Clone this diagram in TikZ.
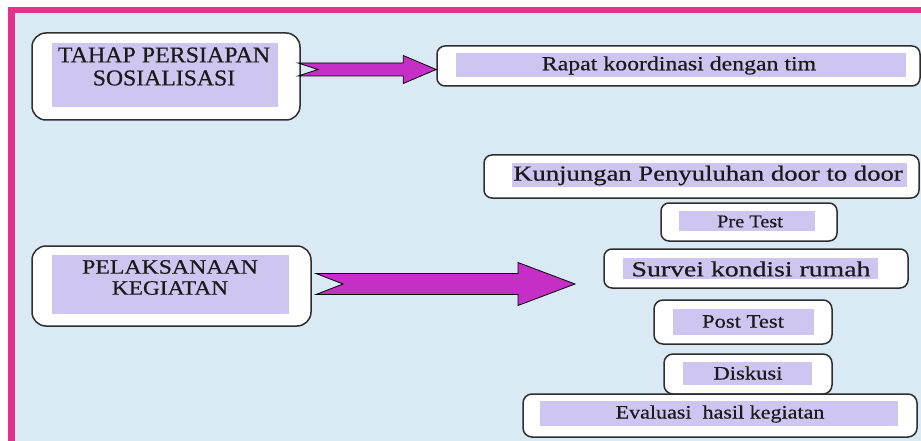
\documentclass[tikz,border=0pt]{standalone}
\usepackage{fontspec}
\setmainfont[FakeBold=0.5]{Liberation Serif}
\usetikzlibrary{calc}
\definecolor{pinkframe}{HTML}{E5318E}
\definecolor{bgblue}{HTML}{DAEAF5}
\definecolor{lav}{HTML}{CEC6F0}
\definecolor{mag}{HTML}{C62FC6}
\definecolor{edge}{HTML}{2E2E2E}
\definecolor{ink}{HTML}{1A1A1A}
\newcommand{\sx}[2]{\scalebox{#1}[1]{#2}}
\newcommand{\blockarrow}[6]{%
  \draw[barrow] let \p1=(#1), \p2=(#2) in
    (\x1,{\y1+#3}) -- ({\x2-#5},{\y1+#3}) -- ({\x2-#5},{\y1+#4}) -- (\x2,\y1)
    -- ({\x2-#5},{\y1-#4}) -- ({\x2-#5},{\y1-#3}) -- (\x1,{\y1-#3})
    -- ({\x1+#6},\y1) -- cycle;}
\tikzset{
  outerbox/.style={draw=edge, line width=1.5pt, fill=white, rounded corners=#1, inner sep=0pt},
  outerbox/.default=9pt,
  innerbox/.style={fill=lav, draw=none, inner sep=0pt},
  lbl/.style={text=ink, inner sep=0pt, align=center},
  barrow/.style={fill=mag, draw=black, line width=0.8pt, line join=miter},
}
\begin{document}
\begin{tikzpicture}[x=1pt,y=-1pt]
\useasboundingbox (0,0) rectangle (921,441);
\clip (0,0) rectangle (921,441);
% frame
\draw[draw=pinkframe, fill=bgblue, line width=6.5pt] (11.5,10) rectangle (940,460);

% TAHAP PERSIAPAN
\node[outerbox=14pt, minimum width=268pt, minimum height=87pt] (tahap) at (166,76.5) {};
\node[innerbox, minimum width=226pt, minimum height=64pt] (tahapin) at (165,75) {};
\node[lbl, font=\fontsize{22.6}{23}\selectfont] (tahaptxt) at (164,66.5) {\sx{1.06}{TAHAP PERSIAPAN}\\\sx{1.05}{SOSIALISASI}};

% Rapat
\node[outerbox=8pt, minimum width=483pt, minimum height=40pt] (rapat) at (678.5,66) {};
\node[innerbox, minimum width=450pt, minimum height=24pt] (rapatin) at (681,65) {};
\node[lbl, font=\fontsize{20}{24}\selectfont] (rapattxt) at (679,65.5) {\sx{1.19}{Rapat koordinasi dengan tim}};

% PELAKSANAAN
\node[outerbox=14pt, minimum width=279pt, minimum height=80pt] (pelak) at (171.5,286) {};
\node[innerbox, minimum width=237pt, minimum height=59pt] (pelakin) at (170.5,284.5) {};
\node[lbl, font=\fontsize{20.5}{21}\selectfont] (pelaktxt) at (170,277.5) {\sx{1.16}{PELAKSANAAN}\\\sx{1.14}{KEGIATAN}};

% Kunjungan
\node[outerbox=8pt, minimum width=435pt, minimum height=43pt] (kunj) at (701.5,176.5) {};
\node[innerbox, minimum width=395pt, minimum height=24pt] (kunjin) at (709.5,175) {};
\node[lbl, font=\fontsize{21.5}{24}\selectfont] (kunjtxt) at (708,175.5) {\sx{1.24}{Kunjungan Penyuluhan door to door}};

% Pre Test
\node[outerbox=8pt, minimum width=176pt, minimum height=38pt] (pre) at (749,222) {};
\node[innerbox, minimum width=136pt, minimum height=20pt] (prein) at (747,221) {};
\node[lbl, font=\fontsize{18}{22}\selectfont] (pretxt) at (750,221.5) {\sx{1.13}{Pre Test}};

% Survei
\node[outerbox=8pt, minimum width=304pt, minimum height=39pt] (survei) at (756,268.5) {};
\node[innerbox, minimum width=255pt, minimum height=21pt] (surveiin) at (750.5,268.5) {};
\node[lbl, font=\fontsize{21.5}{24}\selectfont] (surveitxt) at (751,269) {\sx{1.29}{Survei kondisi rumah}};

% Post Test
\node[outerbox=9pt, minimum width=178pt, minimum height=44pt] (post) at (743,322) {};
\node[innerbox, minimum width=141pt, minimum height=26pt] (postin) at (743.5,322) {};
\node[lbl, font=\fontsize{19}{22}\selectfont] (posttxt) at (743,321.5) {\sx{1.19}{Post Test}};

% Diskusi
\node[outerbox=9pt, minimum width=168pt, minimum height=40pt] (disk) at (748,374) {};
\node[innerbox, minimum width=129pt, minimum height=23pt] (diskin) at (747.5,373.5) {};
\node[lbl, font=\fontsize{19}{22}\selectfont] (disktxt) at (748,373) {\sx{1.19}{Diskusi}};

% Evaluasi
\node[outerbox=9pt, minimum width=394pt, minimum height=43pt] (eval) at (720,415.5) {};
\node[innerbox, minimum width=358pt, minimum height=25pt] (evalin) at (719,413.5) {};
\node[lbl, font=\fontsize{19}{22}\selectfont] (evaltxt) at (720,414) {\sx{1.16}{Evaluasi\ \ hasil kegiatan}};

% arrows
\coordinate (a1s) at (298,69.5);
\coordinate (a1e) at (rapat.west |- a1s);
\blockarrow{a1s}{a1e}{6.5pt}{14pt}{33pt}{20pt}
\coordinate (a2s) at (316,284);
\coordinate (a2e) at (575,284);
\blockarrow{a2s}{a2e}{10.5pt}{21.5pt}{57pt}{27pt}
\end{tikzpicture}
\end{document}
